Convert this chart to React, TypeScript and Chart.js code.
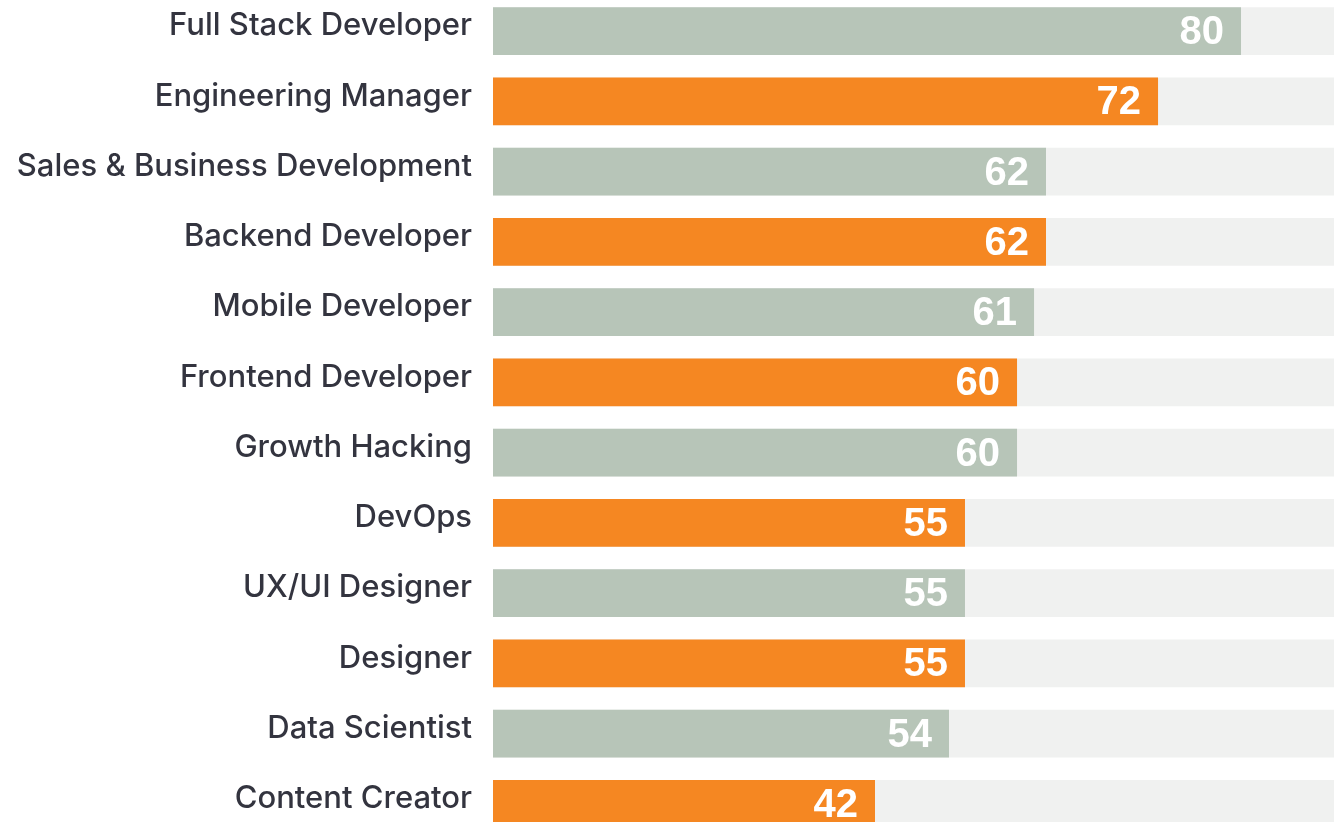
import React, { useEffect, useRef } from "react";
import { Chart, registerables } from "chart.js";

Chart.register(...registerables);

const roles = [
  "Full Stack Developer",
  "Engineering Manager",
  "Sales & Business Development",
  "Backend Developer",
  "Mobile Developer",
  "Frontend Developer",
  "Growth Hacking",
  "DevOps",
  "UX/UI Designer",
  "Designer",
  "Data Scientist",
  "Content Creator",
];

// displayed scores
const scoreLabels = [80, 72, 62, 62, 61, 60, 60, 55, 55, 55, 54, 42];
// bar lengths as measured on the picture (scale 0–90)
const barValues = [80.05, 71.17, 59.18, 59.18, 57.9, 56.08, 56.08, 50.51, 50.51, 50.51, 48.8, 40.88];
const trackMax = 90;
const trackValues = roles.map(() => trackMax);

const GREEN = "#b7c5b8";
const ORANGE = "#f58722";
const TRACK = "#f0f1f0";
const barColors = roles.map((_, i) => (i % 2 === 0 ? GREEN : ORANGE));

const LABEL_FONT = "Inter, 'Liberation Sans', Arial, sans-serif";
const VALUE_FONT = "'Liberation Sans', Arial, Helvetica, sans-serif";

const valueLabelPlugin = {
  id: "valueLabels",
  afterDatasetsDraw(chart: any) {
    const meta = chart.getDatasetMeta(1);
    const ctx = chart.ctx;
    ctx.save();
    ctx.fillStyle = "#ffffff";
    ctx.font = `bold 40px ${VALUE_FONT}`;
    ctx.textAlign = "right";
    ctx.textBaseline = "middle";
    meta.data.forEach((el: any, i: number) => {
      ctx.fillText(String(scoreLabels[i]), el.x - 17, el.y + 2);
    });
    ctx.restore();
  },
};

export default function App() {
  const ref = useRef<HTMLCanvasElement | null>(null);
  useEffect(() => {
    if (!ref.current) return;
    const chart = new Chart(ref.current, {
      type: "bar",
      data: {
        labels: roles,
        datasets: [
          {
            data: trackValues,
            backgroundColor: TRACK,
            order: 2,
            grouped: false,
            barPercentage: 0.683,
            categoryPercentage: 1,
          } as any,
          {
            data: barValues,
            backgroundColor: barColors,
            order: 1,
            grouped: false,
            barPercentage: 0.683,
            categoryPercentage: 1,
          } as any,
        ],
      },
      options: {
        indexAxis: "y",
        animation: false,
        responsive: true,
        maintainAspectRatio: false,
        layout: { padding: 0 },
        plugins: {
          legend: { display: false },
          tooltip: { enabled: false },
        },
        scales: {
          x: {
            display: false,
            min: 0,
            max: trackMax,
          },
          y: {
            grid: { display: false, drawTicks: false },
            border: { display: false },
            ticks: {
              color: "#33343f",
              font: { family: LABEL_FONT, size: 31, weight: 500 as any },
              padding: 21,
              labelOffset: -5,
            },
            afterFit: (scale: any) => {
              scale.width = 493;
              scale.paddingTop = 0;
              scale.paddingBottom = 0;
            },
          },
        },
      },
      plugins: [valueLabelPlugin],
    });
    return () => chart.destroy();
  }, []);

  return (
    <div
      style={{
        position: "fixed",
        left: 0,
        top: -4,
        width: 1334,
        height: 843,
        background: "#ffffff",
      }}
    >
      <canvas ref={ref} />
    </div>
  );
}
